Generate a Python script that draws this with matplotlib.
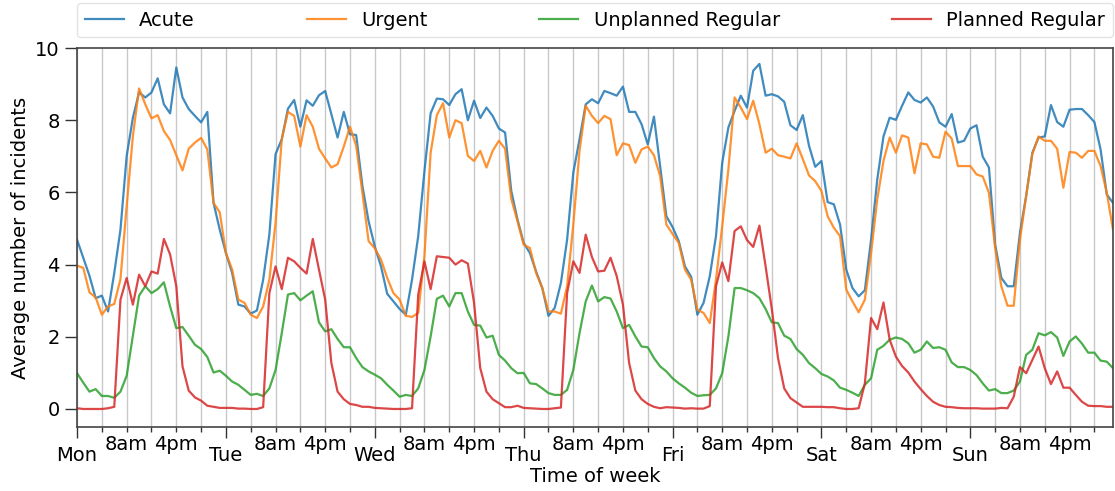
import numpy as np
import matplotlib
matplotlib.use("Agg")
import matplotlib.pyplot as plt
from matplotlib.ticker import FixedLocator

# Hourly averages over one week, Monday 00:00 to Sunday 23:00
acute = [
    4.69, 4.19, 3.69, 3.07, 3.14, 2.70, 3.77, 4.97, 7.01, 8.07, 8.77, 8.63, 8.77, 9.16, 8.44, 8.19, 9.46, 8.63, 8.31, 8.12, 7.94, 8.23, 5.71, 4.97,
    4.32, 3.77, 2.89, 2.84, 2.64, 2.73, 3.58, 4.83, 7.06, 7.47, 8.32, 8.56, 7.82, 8.55, 8.40, 8.69, 8.81, 8.17, 7.52, 8.23, 7.61, 7.59, 6.18, 5.20,
    4.50, 3.95, 3.19, 2.98, 2.77, 2.61, 3.58, 4.79, 6.59, 8.19, 8.60, 8.58, 8.42, 8.72, 8.86, 8.00, 8.54, 8.06, 8.35, 8.12, 7.77, 7.66, 6.04, 5.25,
    4.60, 4.32, 3.81, 3.35, 2.58, 2.80, 3.49, 4.69, 6.55, 7.47, 8.44, 8.58, 8.47, 8.81, 8.75, 8.68, 8.93, 8.23, 8.23, 7.89, 7.33, 8.10, 6.73, 5.34,
    5.04, 4.65, 3.95, 3.66, 2.61, 2.94, 3.68, 4.79, 6.82, 7.80, 8.26, 8.68, 8.35, 9.37, 9.56, 8.68, 8.72, 8.66, 8.51, 7.86, 7.73, 8.14, 7.29, 6.71,
    6.87, 5.73, 5.67, 5.11, 3.86, 3.35, 3.12, 3.29, 4.69, 6.36, 7.55, 8.07, 8.01, 8.40, 8.77, 8.56, 8.49, 8.63, 8.38, 7.94, 7.82, 8.17, 7.38, 7.43,
    7.77, 7.86, 6.99, 6.69, 4.56, 3.63, 3.40, 3.40, 4.88, 5.90, 7.10, 7.52, 7.55, 8.42, 7.95, 7.82, 8.29, 8.31, 8.31, 8.14, 7.95, 7.19, 5.94, 5.71,
]
urgent = [
    3.97, 3.91, 3.23, 3.09, 2.61, 2.84, 2.91, 3.60, 5.62, 7.56, 8.88, 8.44, 8.05, 8.14, 7.70, 7.45, 7.03, 6.61, 7.21, 7.38, 7.51, 7.19, 5.71, 5.45,
    4.32, 3.86, 3.03, 2.94, 2.61, 2.52, 2.84, 3.58, 5.16, 7.47, 8.23, 8.12, 7.27, 8.14, 7.82, 7.21, 6.94, 6.69, 6.78, 7.27, 7.82, 7.29, 5.99, 4.65,
    4.45, 4.14, 3.63, 3.21, 3.03, 2.58, 2.55, 2.66, 4.23, 7.10, 8.14, 8.47, 7.52, 8.00, 7.92, 7.01, 6.87, 7.15, 6.69, 7.15, 7.43, 7.21, 5.82, 5.20,
    4.55, 4.46, 3.77, 3.35, 2.70, 2.70, 2.64, 3.40, 5.11, 7.15, 8.40, 8.12, 7.92, 8.12, 8.03, 7.03, 7.36, 7.31, 6.82, 7.19, 7.27, 7.03, 6.45, 5.11,
    4.85, 4.60, 3.86, 3.58, 2.75, 2.66, 2.38, 3.58, 5.06, 6.64, 8.63, 8.35, 8.03, 8.54, 7.89, 7.10, 7.21, 7.03, 6.99, 6.94, 7.36, 6.92, 6.47, 6.31,
    6.04, 5.34, 5.02, 4.79, 3.31, 2.98, 2.68, 3.03, 4.32, 5.81, 6.87, 7.52, 7.10, 7.58, 7.52, 6.53, 7.36, 7.33, 6.99, 6.96, 7.68, 7.49, 6.73, 6.73,
    6.73, 6.50, 6.44, 5.99, 4.46, 3.40, 2.86, 2.86, 4.69, 5.90, 7.06, 7.55, 7.43, 7.43, 7.21, 6.13, 7.12, 7.10, 6.96, 7.15, 7.15, 6.73, 5.99, 4.97,
]
unplanned_regular = [
    0.99, 0.73, 0.48, 0.55, 0.36, 0.36, 0.31, 0.48, 0.92, 2.03, 3.14, 3.40, 3.21, 3.32, 3.51, 2.84, 2.24, 2.27, 2.03, 1.78, 1.66, 1.44, 1.01, 1.06,
    0.92, 0.76, 0.67, 0.53, 0.39, 0.42, 0.36, 0.57, 1.08, 2.10, 3.17, 3.21, 3.01, 3.14, 3.26, 2.40, 2.15, 2.21, 1.94, 1.71, 1.71, 1.41, 1.16, 1.04,
    0.95, 0.85, 0.67, 0.51, 0.34, 0.39, 0.36, 0.57, 1.08, 2.01, 3.05, 3.14, 2.84, 3.21, 3.21, 2.70, 2.33, 2.31, 1.98, 2.03, 1.50, 1.34, 1.13, 0.99,
    1.00, 0.71, 0.69, 0.57, 0.44, 0.39, 0.39, 0.53, 1.08, 2.10, 2.98, 3.42, 2.98, 3.10, 3.06, 2.70, 2.24, 2.33, 2.01, 1.73, 1.71, 1.41, 1.18, 1.04,
    0.85, 0.71, 0.59, 0.45, 0.36, 0.38, 0.39, 0.57, 0.99, 2.01, 3.35, 3.35, 3.29, 3.21, 3.07, 2.77, 2.40, 2.38, 2.03, 1.94, 1.66, 1.50, 1.27, 1.13,
    0.97, 0.90, 0.79, 0.59, 0.53, 0.45, 0.36, 0.67, 0.85, 1.64, 1.75, 1.92, 1.98, 1.94, 1.82, 1.56, 1.64, 1.87, 1.69, 1.71, 1.64, 1.29, 1.16, 1.16,
    1.08, 0.94, 0.71, 0.51, 0.55, 0.44, 0.44, 0.51, 0.76, 1.50, 1.64, 2.10, 2.04, 2.13, 1.98, 1.47, 1.87, 2.01, 1.81, 1.56, 1.56, 1.34, 1.31, 1.13,
]
planned_regular = [
    0.02, 0.00, 0.00, 0.00, 0.00, 0.02, 0.06, 3.03, 3.63, 2.89, 3.72, 3.40, 3.81, 3.75, 4.71, 4.28, 3.40, 1.18, 0.51, 0.32, 0.23, 0.09, 0.06, 0.03,
    0.03, 0.03, 0.01, 0.01, 0.00, 0.00, 0.05, 3.21, 3.95, 3.32, 4.19, 4.09, 3.91, 3.75, 4.71, 3.86, 3.03, 1.27, 0.48, 0.27, 0.14, 0.11, 0.06, 0.06,
    0.03, 0.02, 0.01, 0.00, 0.00, 0.00, 0.02, 3.17, 4.09, 3.32, 4.23, 4.21, 4.19, 4.00, 4.12, 4.03, 2.94, 1.13, 0.48, 0.27, 0.16, 0.05, 0.05, 0.09,
    0.03, 0.02, 0.01, 0.00, 0.00, 0.02, 0.04, 3.21, 4.09, 3.77, 4.83, 4.21, 3.81, 3.83, 4.19, 3.68, 2.89, 1.27, 0.51, 0.27, 0.14, 0.06, 0.02, 0.05,
    0.04, 0.03, 0.01, 0.02, 0.01, 0.01, 0.08, 3.40, 4.06, 3.54, 4.93, 5.06, 4.68, 4.49, 5.08, 3.95, 2.77, 1.41, 0.57, 0.30, 0.18, 0.06, 0.06, 0.06,
    0.06, 0.05, 0.05, 0.02, 0.00, 0.00, 0.02, 0.71, 2.52, 2.21, 2.95, 1.92, 1.45, 1.19, 1.01, 0.76, 0.55, 0.36, 0.20, 0.11, 0.06, 0.05, 0.03, 0.02,
    0.02, 0.02, 0.01, 0.01, 0.01, 0.03, 0.02, 0.34, 1.16, 0.99, 1.36, 1.73, 1.13, 0.69, 1.04, 0.59, 0.59, 0.39, 0.20, 0.09, 0.08, 0.08, 0.06, 0.06,
]

series_names = ["Acute", "Urgent", "Unplanned Regular", "Planned Regular"]
series_colors = ["#1f77b4", "#ff7f0e", "#2ca02c", "#d62728"]
day_labels = ["Mon", "Tue", "Wed", "Thu", "Fri", "Sat", "Sun"]
hour_labels = {8: "8am", 16: "4pm"}

hours = np.arange(len(acute))

plt.rcParams["font.family"] = ["DejaVu Sans"]
plt.rcParams["font.size"] = 14

fig = plt.figure(figsize=(11.15, 4.91), dpi=100)
ax = fig.add_axes([0.0691, 0.1303, 0.9291, 0.7719])

for name, vals, col in zip(series_names, [acute, urgent, unplanned_regular, planned_regular], series_colors):
    ax.plot(hours, vals, color=col, lw=1.6, alpha=0.85, label=name)

ax.set_xlim(0, 167)
ax.set_ylim(-0.5, 10)
ax.set_yticks([0, 2, 4, 6, 8, 10])

# days on major ticks, every 4 hours on minor ticks
major = np.arange(0, 168, 24)
minor = [h for h in range(0, 168, 4) if h % 24 != 0]
ax.xaxis.set_major_locator(FixedLocator(major))
ax.xaxis.set_minor_locator(FixedLocator(minor))
ax.set_xticklabels(day_labels)
ax.set_xticklabels([hour_labels.get(h % 24, "") for h in minor], minor=True)
ax.tick_params(axis="x", which="major", length=8, width=1, pad=6, colors="#333333", labelcolor="black")
ax.tick_params(axis="x", which="minor", length=3.5, width=1, pad=2, colors="#333333", labelcolor="black")
ax.tick_params(axis="y", length=9, width=1, colors="#333333", labelcolor="black")

ax.grid(True, which="both", axis="x", color="#c8c8c8", lw=1)
ax.set_axisbelow(True)
for s in ax.spines.values():
    s.set_color("#444444")
    s.set_linewidth(1.2)

ax.set_xlabel("Time of week", labelpad=1)
ax.set_ylabel("Average number of incidents")

ax.legend(loc="lower left", bbox_to_anchor=(0, 1.028, 1, 0.1), mode="expand", ncol=4,
          borderaxespad=0, frameon=True, edgecolor="#dddddd")

fig.savefig("out.png", dpi=100)
